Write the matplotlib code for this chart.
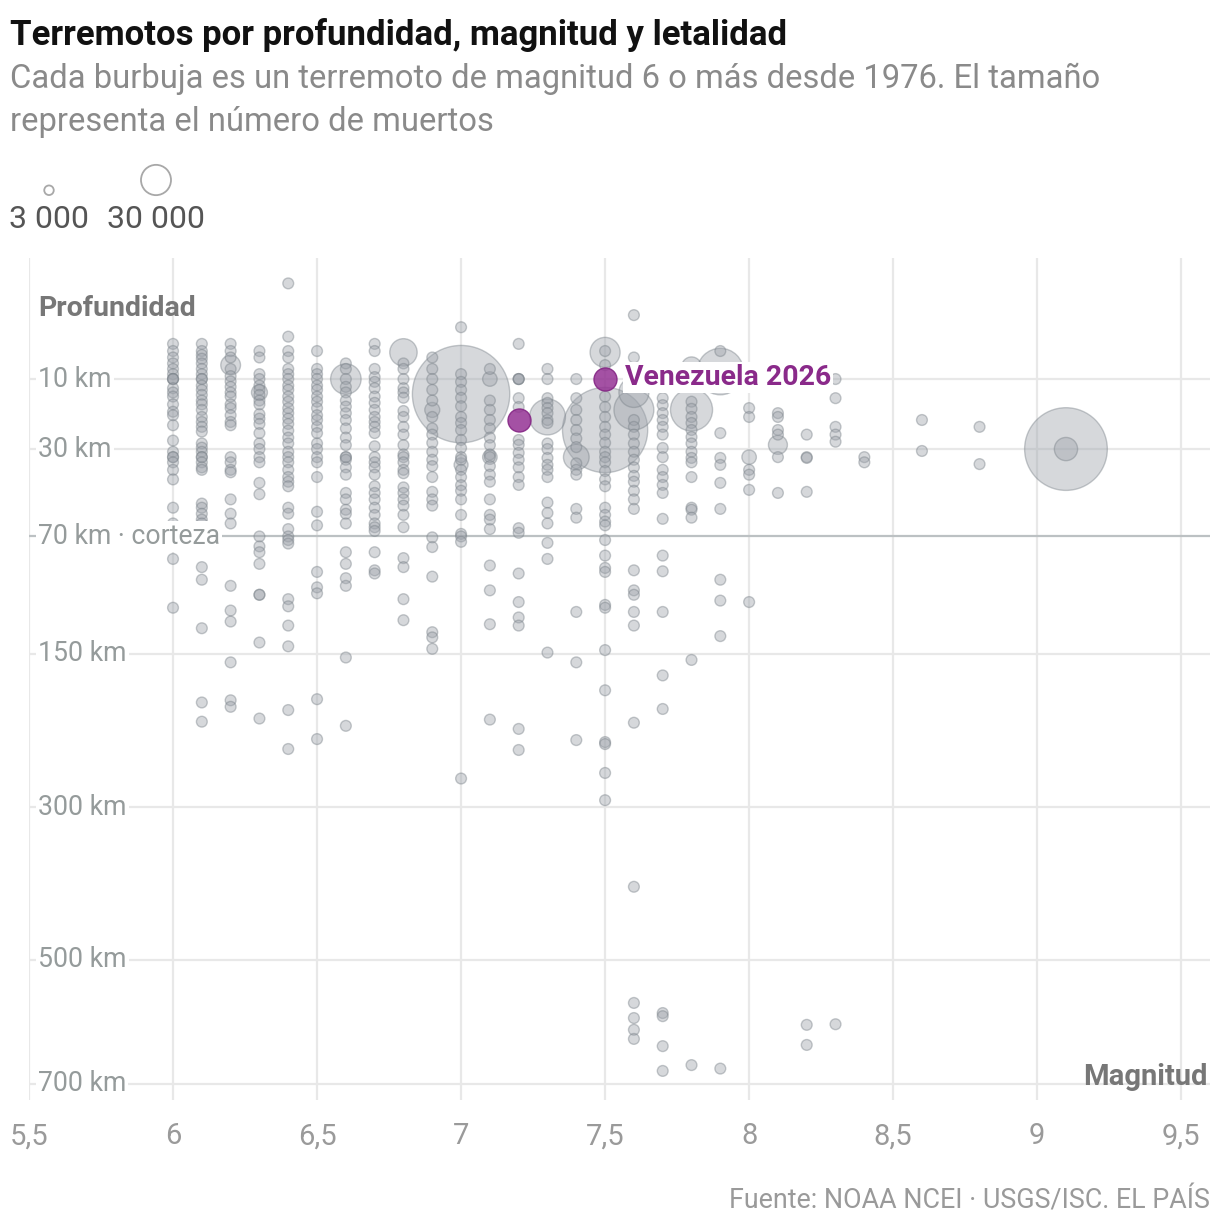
import numpy as np
import matplotlib.pyplot as plt

plt.rcParams['font.family'] = ['Roboto', 'DejaVu Sans']

# profundidad (km) de los terremotos sin muertos relevantes, por magnitud
p60 = [4, 5, 6, 7, 8, 9, 10, 10, 10, 12, 13, 14, 16, 18, 19, 22, 27, 31, 33, 33, 35, 38, 42, 55, 63, 83, 115]
p61 = [4, 5, 5.6, 6.2, 7, 8, 9, 10, 10, 11.4, 12.4, 13.6, 15, 16, 17.5, 19.5, 21, 22.5, 24, 28, 29.5, 31, 33, 33,
       35, 37, 38, 53, 55, 58, 61, 63, 88, 96, 130, 192, 210]
p62 = [4, 5, 6, 8, 9.4, 10.5, 11.7, 13, 14, 16, 17, 19, 21, 22, 33, 35, 38, 39, 51, 58, 63, 100, 117, 125, 157, 190, 196]
p63 = [5, 6, 9, 10, 11.4, 12.4, 13.6, 15, 16, 18.7, 20, 21.6, 24.5, 28, 30, 33, 35, 43.5, 48.6, 70, 75.6, 79, 86,
       106, 106, 141, 207]
p64 = [0, 3.1, 5, 6, 8, 9, 10, 11.4, 12.4, 14, 15.3, 17, 18.4, 20, 21.6, 23.7, 26, 28, 31, 33, 35, 38, 41, 43, 45,
       55, 58, 66, 70, 72, 74, 109, 114, 128, 144, 199, 237]
p65 = [5, 8, 9, 10, 11.4, 12.4, 14, 15.3, 17, 19, 20.4, 22.5, 24.5, 28, 30, 33, 35, 41, 57, 64, 91, 101, 105, 189, 227]
p66 = [7, 8, 10, 11.7, 13, 15, 16.6, 18.4, 20.4, 23, 26, 28.6, 33, 33, 34, 37, 40, 48, 51, 56, 58, 63, 79, 86, 95,
       100, 153, 214]
p67 = [4, 5, 8, 9.6, 10.6, 12, 14, 15.6, 17.5, 19.5, 21, 22.5, 24.5, 29, 33, 35, 37, 40, 45, 48, 51, 55, 58.6, 63,
       65, 67, 79, 90, 92]
p68 = [7, 8, 10, 12, 13, 14.3, 17.8, 19.5, 22.5, 25, 28.6, 32, 33, 35, 38, 39.4, 45.5, 48, 51, 54, 58.6, 65, 82.5,
       88, 109, 124]
p69 = [6, 8, 10, 12.4, 15, 19.5, 23, 25, 27.8, 31, 34, 36.5, 41, 47.5, 51, 54, 70.5, 76, 94, 133, 137, 146]
p70 = [2.1, 9, 10.6, 12.4, 14.3, 16.5, 19.5, 21.3, 23.5, 26.8, 29.6, 33, 34, 38, 41, 44.5, 47, 51, 58.6, 68.6, 70,
       73, 268]
p71 = [8, 15, 17.5, 20.4, 23, 26, 28.6, 32, 33, 36.5, 40, 43, 51, 58.6, 61, 66, 87, 103, 127, 208]
p72 = [4, 10, 10, 10, 14.4, 16.7, 26.8, 28.5, 31.4, 34, 37, 41, 44.4, 65.5, 68, 92, 111, 122, 128, 217, 238]
p73 = [8, 10, 14.4, 15.6, 17, 18.4, 20.4, 21.3, 28, 30, 33.3, 36, 38, 41, 52.5, 57.6, 63, 73.6, 83, 149]
p74 = [10, 14.4, 17.5, 20.4, 23.5, 26.3, 29.3, 35.4, 38, 40, 55.6, 60, 118, 157, 228]
p75 = [5, 7.3, 14, 16.7, 19.5, 22.5, 25, 27.8, 31, 33, 35, 38.5, 42, 45, 55, 58.6, 62, 64, 72, 81, 88.5, 91, 113,
       115, 147, 181, 230, 232, 262, 292]
p76 = [1.1, 6, 20.4, 22.5, 25, 28, 31, 34, 37, 40.5, 43, 47, 51, 55.6, 90, 103, 106, 118, 128, 211, 398, 566, 590,
       609, 624]
p77 = [14.4, 16.2, 18.4, 20.4, 22.5, 25, 29.6, 33, 38, 41, 44.4, 48, 60.6, 81, 90.6, 118, 168, 198, 582, 587, 636, 678]
p78 = [15.3, 17.2, 19.5, 21.3, 23.5, 25.8, 28, 31, 33.3, 35, 41, 55, 56, 60, 155, 668]
p79 = [5, 24.5, 33.3, 36, 43.5, 55.6, 96, 110, 136, 674]
p80 = [17, 19.5, 38, 40, 46.6, 111]
p81 = [18.4, 19.5, 23.5, 25, 33, 48]
p82 = [25, 33, 33.3, 47.5, 601, 634]
p83 = [10, 14.4, 22.5, 25, 27.4, 600]
p84 = [33, 35]
p86 = [20.4, 30.7]
p88 = [22.5, 35.7]

columnas = [(6.0, p60), (6.1, p61), (6.2, p62), (6.3, p63), (6.4, p64), (6.5, p65), (6.6, p66), (6.7, p67),
            (6.8, p68), (6.9, p69), (7.0, p70), (7.1, p71), (7.2, p72), (7.3, p73), (7.4, p74), (7.5, p75),
            (7.6, p76), (7.7, p77), (7.8, p78), (7.9, p79), (8.0, p80), (8.1, p81), (8.2, p82), (8.3, p83),
            (8.4, p84), (8.6, p86), (8.8, p88)]

# terremotos con muchos muertos (burbujas grandes)
burbuja_mag = [6.2, 6.3, 6.6, 6.8, 6.9, 7.0, 7.0, 7.1, 7.1, 7.3, 7.4, 7.5, 7.5, 7.6, 7.6, 7.8, 7.8, 7.9, 8.0, 8.1, 9.1, 9.1]
burbuja_prof = [7.3, 13, 10, 5.2, 17.5, 13.4, 36, 10, 33, 19.5, 33, 5.2, 23.5, 13, 17.5, 7.6, 17.5, 8.5, 33, 28.5, 30, 30]
burbuja_muertos = [13000, 8500, 31000, 25000, 7500, 316000, 6500, 7000, 7000, 43000, 22000, 30000, 242000, 30000,
                   53000, 13000, 59000, 72000, 7000, 12000, 228000, 18000]

# Venezuela
vzla_mag = [7.5, 7.2]
vzla_prof = [10, 20.4]

leyenda_muertos = [3000, 30000]
leyenda_txt = ['3 000', '30 000']

mag_ticks = [5.5, 6, 6.5, 7, 7.5, 8, 8.5, 9, 9.5]
prof_ticks = [10, 30, 70, 150, 300, 500, 700]
prof_txt = ['10 km', '30 km', '70 km · corteza', '150 km', '300 km', '500 km', '700 km']

W, H = 1220, 1232
fig = plt.figure(figsize=(W / 100, H / 100), dpi=100)
ax = fig.add_axes([29 / W, 1 - 1100 / H, (1210 - 29) / W, (1100 - 258) / H])


def raiz(d):
    return np.sign(d) * np.sqrt(np.abs(d))


def cuadrado(v):
    return np.sign(v) * v ** 2


ax.set_yscale('function', functions=(raiz, cuadrado))
ax.set_xlim(5.5, 9.6)
ax.set_ylim(729, -0.705)


def radio(m):
    return np.maximum(5.4, 15 * np.sqrt(np.asarray(m, dtype=float) / 30000))


def area(r):
    return (2 * np.asarray(r) * 72 / 100) ** 2


# rejilla
for m in mag_ticks:
    ax.axvline(m, color='#e8e8e8', lw=1.6, zorder=0)
for d in prof_ticks:
    if d == 70:
        ax.axhline(d, color='#bcc1c3', lw=1.6, zorder=1)
    else:
        ax.axhline(d, color='#e8e8e8', lw=1.6, zorder=0)

# puntos
xs, ys, ms = [], [], []
for m, lista in columnas:
    xs += [m] * len(lista)
    ys += lista
    ms += [0] * len(lista)
xs += burbuja_mag
ys += burbuja_prof
ms += burbuja_muertos
xs, ys, ms = np.array(xs), np.array(ys), np.array(ms)
orden = np.argsort(-ms, kind='stable')
ax.scatter(xs[orden], ys[orden], s=area(radio(ms[orden])), facecolor=(0.62, 0.64, 0.67, 0.42),
           edgecolor=(0.47, 0.50, 0.53, 0.42), linewidth=1.0, zorder=3)

ax.scatter(vzla_mag, vzla_prof, s=area(11.5), facecolor=(0.58, 0.20, 0.58, 0.85),
           edgecolor=(0.52, 0.15, 0.52, 0.9), linewidth=1.0, zorder=4)
ax.annotate('Venezuela 2026', xy=(vzla_mag[0], vzla_prof[0]), xytext=(14, 1), textcoords='offset points',
            ha='left', va='center', fontsize=20.4, fontweight='bold', color='#8a2a8a', zorder=6,
            bbox=dict(fc='white', ec='none', pad=1.5))

# etiquetas de profundidad
for d, t in zip(prof_ticks, prof_txt):
    ax.text(9 / 1181, d, t, transform=ax.get_yaxis_transform(), ha='left', va='center', fontsize=19.2,
            color='#959b9b', zorder=6, bbox=dict(fc='white', ec='none', pad=1.5))

ax.set_xticks(mag_ticks)
ax.set_xticklabels([str(m).replace('.', ',').replace(',0', '') for m in mag_ticks])
ax.tick_params(axis='x', length=0, pad=16, labelsize=21, labelcolor='#9a9a9a')
ax.set_yticks([])
ax.minorticks_off()
for s in ax.spines.values():
    s.set_visible(False)

fig.text(38 / W, 1 - 316 / H, 'Profundidad', fontsize=20.5, fontweight='bold', color='#777777', va='baseline')
fig.text(1208 / W, 1 - 1085 / H, 'Magnitud', fontsize=21, fontweight='bold', color='#777777', va='baseline',
         ha='right')

# titulo
fig.text(10 / W, 1 - 45 / H, 'Terremotos por profundidad, magnitud y letalidad', fontsize=25,
         fontweight='bold', color='#111111', va='baseline')
fig.text(10 / W, 1 - 88 / H, 'Cada burbuja es un terremoto de magnitud 6 o más desde 1976. El tamaño',
         fontsize=23.6, color='#8a8a8a', va='baseline')
fig.text(10 / W, 1 - 131 / H, 'representa el número de muertos', fontsize=23.6, color='#8a8a8a', va='baseline')

# leyenda de tamaños
ley_x = [49, 156]
ley_r = 15 * np.sqrt(np.array(leyenda_muertos) / 30000)
for x, r, t in zip(ley_x, ley_r, leyenda_txt):
    fig.add_artist(plt.Circle((x / W, 1 - (195 - r) / H), r / W, transform=fig.transFigure, fc='white',
                              ec='#a8a8a8', lw=1.3))
    fig.text(x / W, 1 - 228 / H, t, ha='center', va='baseline', fontsize=23, color='#555555')

fig.text(1210 / W, 1 - 1209 / H, 'Fuente: NOAA NCEI · USGS/ISC. EL PAÍS', ha='right', va='baseline',
         fontsize=19.4, color='#9a9a9a')

fig.savefig('out.png', dpi=100, facecolor='white')
